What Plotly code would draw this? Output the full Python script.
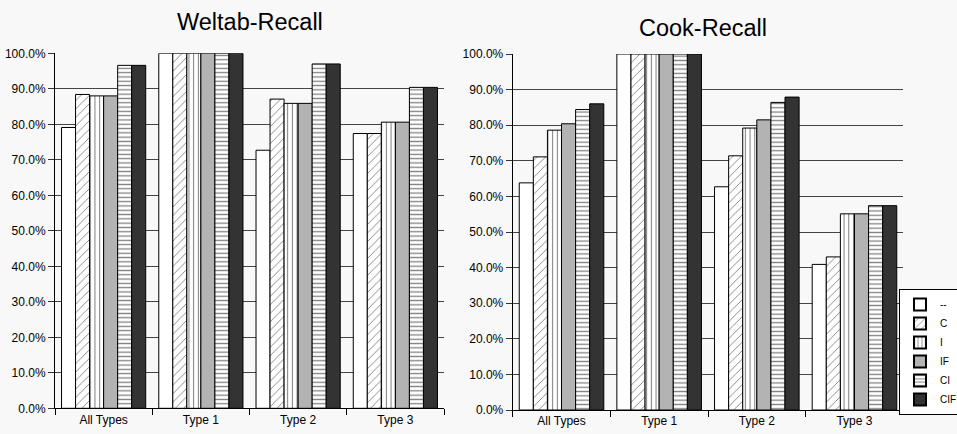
import plotly.graph_objects as go

categories = ["All Types", "Type 1", "Type 2", "Type 3"]
series_names = ["--", "C", "I", "IF", "CI", "CIF"]

# Weltab-Recall (fractions)
weltab_none = [0.791, 1.0, 0.727, 0.774]
weltab_c = [0.884, 1.0, 0.871, 0.774]
weltab_i = [0.880, 1.0, 0.859, 0.806]
weltab_if = [0.880, 1.0, 0.859, 0.806]
weltab_ci = [0.966, 1.0, 0.970, 0.904]
weltab_cif = [0.966, 1.0, 0.970, 0.904]

# Cook-Recall (fractions)
cook_none = [0.638, 1.0, 0.627, 0.409]
cook_c = [0.711, 1.0, 0.714, 0.430]
cook_i = [0.786, 1.0, 0.792, 0.551]
cook_if = [0.804, 1.0, 0.815, 0.551]
cook_ci = [0.844, 1.0, 0.864, 0.574]
cook_cif = [0.860, 1.0, 0.879, 0.574]

weltab = [weltab_none, weltab_c, weltab_i, weltab_if, weltab_ci, weltab_cif]
cook = [cook_none, cook_c, cook_i, cook_if, cook_ci, cook_cif]

styles = [
    dict(color="white", pattern=dict(shape="")),
    dict(color="white", pattern=dict(shape="/", fgcolor="black", size=6, solidity=0.15, fillmode="overlay")),
    dict(color="white", pattern=dict(shape="|", fgcolor="black", size=4.7, solidity=0.22, fillmode="overlay")),
    dict(color="#b3b3b3", pattern=dict(shape="")),
    dict(color="white", pattern=dict(shape="-", fgcolor="black", size=4.3, solidity=0.3, fillmode="overlay")),
    dict(color="#333333", pattern=dict(shape="")),
]

fig = go.Figure()
for name, vals, st in zip(series_names, weltab, styles):
    fig.add_trace(go.Bar(x=categories, y=vals, name=name, xaxis="x", yaxis="y",
                         marker=dict(color=st["color"], pattern=st["pattern"],
                                     line=dict(color="black", width=1)),
                         legendgroup=name, showlegend=True))
for name, vals, st in zip(series_names, cook, styles):
    fig.add_trace(go.Bar(x=categories, y=vals, name=name, xaxis="x2", yaxis="y2",
                         marker=dict(color=st["color"], pattern=st["pattern"],
                                     line=dict(color="black", width=1)),
                         legendgroup=name, showlegend=False))

W, H = 957, 434
FAM = "Liberation Sans, Arial, sans-serif"
font = dict(family=FAM, size=12, color="black")

xcommon = dict(type="category", tickson="boundaries", ticks="outside", ticklen=6,
               tickcolor="black", showline=True, linecolor="black", linewidth=1,
               showgrid=False, tickfont=font, fixedrange=True)
ycommon = dict(range=[0, 1], dtick=0.1, tick0=0, tickformat=".1%", ticks="outside",
               ticklen=6, tickcolor="#333333", showline=True, linecolor="black",
               linewidth=1, showgrid=True, gridcolor="#444444", gridwidth=1,
               zeroline=False, tickfont=font, fixedrange=True)

fig.update_layout(
    width=W, height=H,
    margin=dict(l=0, r=0, t=0, b=0, autoexpand=False),
    paper_bgcolor="#f8f8f8", plot_bgcolor="#f8f8f8",
    barmode="group", bargap=0.134, bargroupgap=0,
    xaxis=dict(domain=[55 / W, 444 / W], anchor="y", **xcommon),
    yaxis=dict(domain=[1 - 408.3 / H, 1 - 53.3 / H], anchor="x", **ycommon),
    xaxis2=dict(domain=[512.7 / W, 903.3 / W], anchor="y2", **xcommon),
    yaxis2=dict(domain=[1 - 410 / H, 1 - 54 / H], anchor="x2", **ycommon),
    legend=dict(x=899 / W, y=1 - 289 / H, xanchor="left", yanchor="top",
                bgcolor="white", bordercolor="black", borderwidth=1,
                font=dict(family=FAM, size=10, color="black"),
                tracegroupgap=0, itemsizing="constant"),
    annotations=[
        dict(text="Weltab-Recall", x=250 / W, y=1 - 22 / H, xref="paper", yref="paper",
             xanchor="center", yanchor="middle", showarrow=False,
             font=dict(family=FAM, size=23.5, color="black")),
        dict(text="Cook-Recall", x=703 / W, y=1 - 28 / H, xref="paper", yref="paper",
             xanchor="center", yanchor="middle", showarrow=False,
             font=dict(family=FAM, size=23.5, color="black")),
    ],
)

fig.write_html("out.html", config={"displayModeBar": False},
               post_script="document.body.style.margin='0';")
